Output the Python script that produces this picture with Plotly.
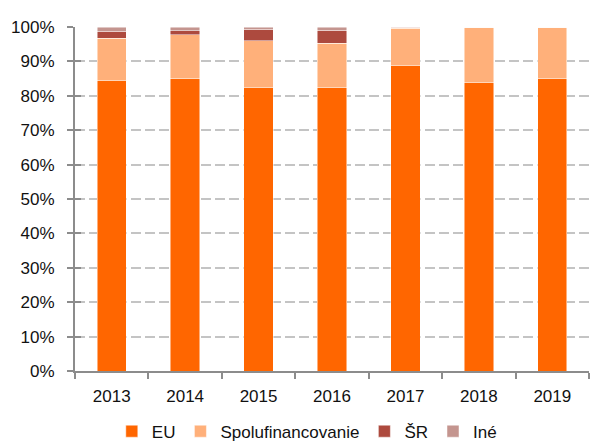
import plotly.graph_objects as go

years = ["2013", "2014", "2015", "2016", "2017", "2018", "2019"]

# Shares of funding sources (%) per year
eu = [84.4, 84.9, 82.3, 82.3, 88.8, 84.0, 85.1]
spolufinancovanie = [12.3, 12.8, 13.7, 13.0, 10.8, 16.0, 14.9]
sr = [2.1, 1.2, 3.4, 3.7, 0.3, 0.0, 0.0]
ine = [1.2, 1.1, 0.6, 1.0, 0.1, 0.0, 0.0]

y_ticks = list(range(0, 101, 10))
y_tick_labels = [f"{v}%" for v in y_ticks]

series = [
    ("EU", eu, "#FF6600"),
    ("Spolufinancovanie", spolufinancovanie, "#FFB07A"),
    ("ŠR", sr, "#AD4A3E"),
    ("Iné", ine, "#C4958F"),
]

fig = go.Figure()
for name, vals, color in series:
    fig.add_trace(go.Bar(
        x=years, y=vals, name=name,
        marker=dict(color=color, line=dict(color="rgba(255,255,255,0.6)", width=0.8)),
    ))

# invisible helper so the overlay axis (inner half of the y ticks) gets drawn
fig.add_trace(go.Scatter(
    x=[years[0]], y=[0], yaxis="y2", mode="markers",
    marker=dict(opacity=0), showlegend=False, hoverinfo="skip",
))

font = "Liberation Sans, Arial, sans-serif"
axis_grey = "#8c8c8c"
fig.update_layout(
    barmode="stack",
    bargap=0.6,
    width=590, height=445,
    margin=dict(l=75, r=1, t=27, b=74, autoexpand=False),
    paper_bgcolor="white",
    plot_bgcolor="white",
    font=dict(family=font, size=17, color="#111111"),
    showlegend=True,
    legend=dict(
        orientation="h", xref="container", x=0.52, xanchor="center",
        yref="container", y=0.03, yanchor="middle",
        font=dict(size=17, family=font, color="#111111"),
        itemwidth=30, traceorder="normal",
    ),
    xaxis=dict(
        type="category",
        showline=True, linecolor=axis_grey, linewidth=2,
        ticks="outside", tickson="boundaries", ticklen=6, tickcolor=axis_grey, tickwidth=1.5,
        ticklabelstandoff=9,
        showgrid=False,
        tickfont=dict(size=17, color="#111111"),
    ),
    yaxis=dict(
        range=[0, 100], tickvals=y_ticks, ticktext=y_tick_labels,
        showline=True, linecolor=axis_grey, linewidth=2,
        ticks="outside", ticklen=6, tickcolor=axis_grey, tickwidth=1.5,
        ticklabelstandoff=9,
        showgrid=True, gridcolor="#c4c4c4", gridwidth=2, griddash="10px,4px",
        tickfont=dict(size=17, color="#111111"),
        zeroline=False,
    ),
    yaxis2=dict(
        overlaying="y", side="left", anchor="x",
        range=[0, 100], tickvals=y_ticks,
        ticks="inside", ticklen=6, tickcolor=axis_grey, tickwidth=1.5,
        showticklabels=False, showgrid=False, showline=False, zeroline=False,
    ),
)

fig.write_html("out.html")
